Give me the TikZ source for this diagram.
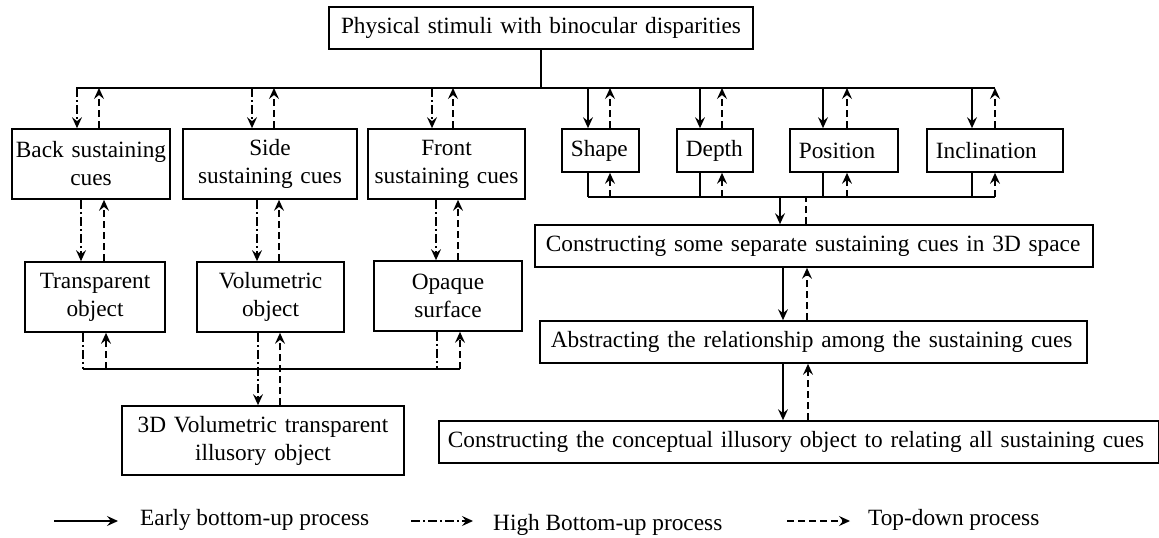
\documentclass[tikz,border=0pt]{standalone}
\usepackage{fontspec}
\setmainfont{Liberation Serif}
\usetikzlibrary{arrows.meta}
\begin{document}
\begin{tikzpicture}[x=1pt,y=-1pt,
  every node/.style={font=\fontsize{23.3}{28}\selectfont},
  bx/.style={draw, line width=1.7pt, inner ysep=0pt},
  cbox/.style={bx, align=center, inner xsep=2pt},
  lbox/.style={bx, align=left, inner xsep=9pt, minimum height=43pt, anchor=west},
  ln/.style={line width=1.4pt},
  dd/.style={ln, dash pattern=on 9pt off 3pt on 2pt off 3pt},
  dsh/.style={ln, dash pattern=on 7pt off 4pt},
  arr/.style={-{Stealth[length=11pt,width=10pt,inset=4pt]}},
]
\useasboundingbox (0,0) rectangle (1159,538);

% ---------- boxes ----------
\node[cbox, text width=420.5pt, minimum height=42pt] (top) at (541,28) {Physical stimuli with binocular disparities};

\node[cbox, text width=154.5pt, minimum height=70pt] (back)  at (91,164)    {Back sustaining\\cues};
\node[cbox, text width=170pt,   minimum height=70pt] (side)  at (270,164)   {Side\\sustaining cues};
\node[cbox, text width=153pt,   minimum height=70pt] (front) at (446.5,164) {Front\\sustaining cues};

\node[cbox, text width=136pt, minimum height=70pt] (trans)  at (95,297)    {Transparent\\object};
\node[cbox, text width=143pt, minimum height=70pt] (vol)    at (270.5,297) {Volumetric\\object};
\node[cbox, text width=144pt, minimum height=70pt] (opaque) at (448,296)   {Opaque\\surface};

\node[cbox, text width=278pt, minimum height=69pt] (ill) at (263,440.5) {3D Volumetric transparent\\illusory object};

\node[lbox, text width=59pt]  (shape)       at (561,150.5) {Shape};
\node[lbox, text width=58pt]  (depth)       at (676,150.5) {Depth};
\node[lbox, text width=90pt]  (position)    at (789,150.5) {Position};
\node[lbox, text width=118pt] (inclination) at (926,150.5) {Inclination};

\node[lbox, inner xsep=11pt, text width=536pt, minimum height=42pt] (cons) at (534,246) {Constructing some separate sustaining cues in 3D space};
\node[lbox, inner xsep=11pt, text width=525pt, minimum height=42pt] (abs)  at (539,342) {Abstracting the relationship among the sustaining cues};
\node[lbox, text width=702pt, minimum height=42pt] (conc) at (438,442) {Constructing the conceptual illusory object to relating all sustaining cues};

% ---------- top bus ----------
\coordinate (busL) at (76,88);
\coordinate (busR) at (995,88);
\draw[ln] (top.south) -- (top.south |- busL);
\draw[ln] (busL) -- (busR);

\foreach \n/\d/\u/\s in {back/77/99/dd, side/252/274/dd, front/432/453/dd,
    shape/588/610/ln, depth/700/722/ln, position/823/847/ln, inclination/972/995/ln}{
  \coordinate (\n-d) at (\d,88);
  \coordinate (\n-u) at (\u,88);
  \draw[\s,arr] (\n-d) -- (\n-d |- \n.north);
  \draw[dsh,arr] (\n-u |- \n.north) -- (\n-u);
}

% ---------- left column: row 1 to row 2 ----------
\foreach \a/\b/\d/\u in {back/trans/81/104, side/vol/257/279, front/opaque/436/458}{
  \coordinate (\b-md) at (\d,230);
  \coordinate (\b-mu) at (\u,230);
  \draw[dd,arr] (\b-md |- \a.south) -- (\b-md |- \b.north);
  \draw[dsh,arr] (\b-mu |- \b.north) -- (\b-mu |- \a.south);
}

% ---------- left bus ----------
\coordinate (lbL) at (83,369);
\coordinate (lbR) at (460,369);
\coordinate (tu) at (106,369);
\coordinate (od) at (437,369);
\coordinate (vd) at (258,369);
\coordinate (vu) at (280,369);
\draw[ln] (lbL) -- (lbR);
\draw[dd] (lbL |- trans.south) -- (lbL);
\draw[dsh,arr] (tu) -- (tu |- trans.south);
\draw[dd] (od |- opaque.south) -- (od);
\draw[dsh,arr] (lbR) -- (lbR |- opaque.south);
\draw[dd,arr] (vd |- vol.south) -- (vd |- ill.north);
\draw[dsh,arr] (vu |- ill.north) -- (vu |- vol.south);

% ---------- right bus ----------
\coordinate (rbL) at (588,197);
\coordinate (rbR) at (995,197);
\draw[ln] (rbL) -- (rbR);
\foreach \n/\d/\u in {shape/588/610, depth/700/722, position/823/847, inclination/972/995}{
  \coordinate (\n-bd) at (\d,197);
  \coordinate (\n-bu) at (\u,197);
  \draw[ln] (\n-bd |- \n.south) -- (\n-bd);
  \draw[dsh,arr] (\n-bu) -- (\n-bu |- \n.south);
}
\coordinate (cd) at (780,197);
\coordinate (cu) at (806,197);
\draw[ln,arr] (cd) -- (cd |- cons.north);
\draw[dsh] (cu |- cons.north) -- (cu);

\coordinate (ca) at (783,300);
\coordinate (cb) at (807,300);
\draw[ln,arr] (ca |- cons.south) -- (ca |- abs.north);
\draw[dsh,arr] (cb |- abs.north) -- (cb |- cons.south);
\coordinate (ac) at (783,400);
\coordinate (ab) at (808,400);
\draw[ln,arr] (ac |- abs.south) -- (ac |- conc.north);
\draw[dsh,arr] (ab |- conc.north) -- (ab |- abs.south);

% ---------- legend ----------
\coordinate (l1a) at (54,521);  \coordinate (l1b) at (118,521);
\coordinate (l2a) at (411,521); \coordinate (l2b) at (473,521);
\coordinate (l3a) at (787,521); \coordinate (l3b) at (850,521);
\draw[ln,arr] (l1a) -- (l1b);
\draw[dd,arr] (l2a) -- (l2b);
\draw[dsh,arr] (l3a) -- (l3b);
\node[anchor=west, inner sep=0pt] (lg1) at (140,520) {Early bottom-up process};
\node[anchor=west, inner sep=0pt] (lg2) at (493,525) {High Bottom-up process};
\node[anchor=west, inner sep=0pt] (lg3) at (868,520) {Top-down process};
\end{tikzpicture}
\end{document}
